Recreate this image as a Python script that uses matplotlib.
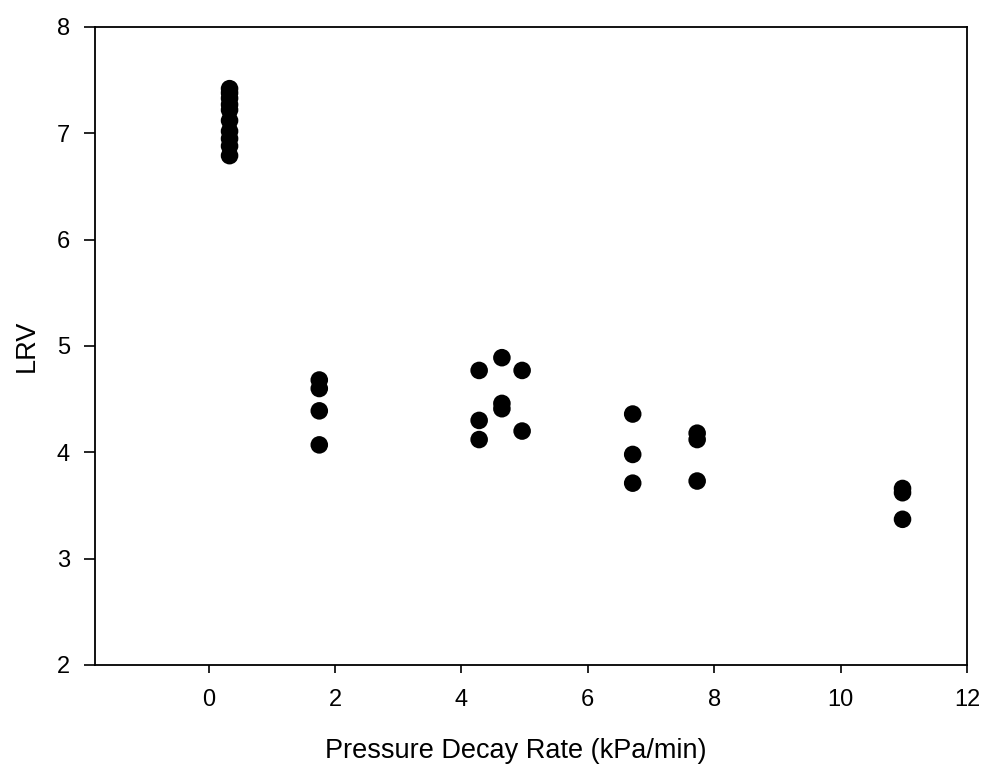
import matplotlib
matplotlib.use("Agg")
import matplotlib.pyplot as plt

plt.rcParams['font.family'] = ['Liberation Sans', 'DejaVu Sans']

# Pressure decay rate (kPa/min) and LRV
decay_rate = [0.33] * 10 + [1.75] * 4 + [4.28] * 3 + [4.64] * 3 + [4.96] * 2 \
    + [6.71] * 3 + [7.73] * 3 + [10.98] * 3
lrv = [7.42, 7.38, 7.33, 7.27, 7.22, 7.12, 7.02, 6.95, 6.88, 6.79,
       4.68, 4.60, 4.39, 4.07,
       4.77, 4.30, 4.12,
       4.89, 4.46, 4.41,
       4.77, 4.20,
       4.36, 3.98, 3.71,
       4.18, 4.12, 3.73,
       3.66, 3.62, 3.37]

x_ticks = [0, 2, 4, 6, 8, 10, 12]
y_ticks = [2, 3, 4, 5, 6, 7, 8]

fig = plt.figure(figsize=(9.82, 7.71), dpi=100)
ax = fig.add_axes([0.0967, 0.1375, 0.888, 0.8275])

ax.scatter(decay_rate, lrv, s=160, color='black', edgecolors='none', zorder=3)

ax.set_xlim(-1.8, 12)
ax.set_ylim(2, 8)
ax.set_xticks(x_ticks)
ax.set_yticks(y_ticks)
ax.tick_params(axis='both', direction='out', width=1.2, labelsize=17,
               top=False, right=False)
ax.tick_params(axis='x', length=6, pad=11)
ax.tick_params(axis='y', length=8, pad=10)
for sp in ax.spines.values():
    sp.set_linewidth(1.3)

ax.set_xlabel("Pressure Decay Rate (kPa/min)", fontsize=19.5)
ax.set_ylabel("LRV", fontsize=19.5, labelpad=12)
# label in the original sits a little left of the axes centre
ax.xaxis.set_label_coords(0.483, -0.115)

fig.savefig("out.png", dpi=100)
